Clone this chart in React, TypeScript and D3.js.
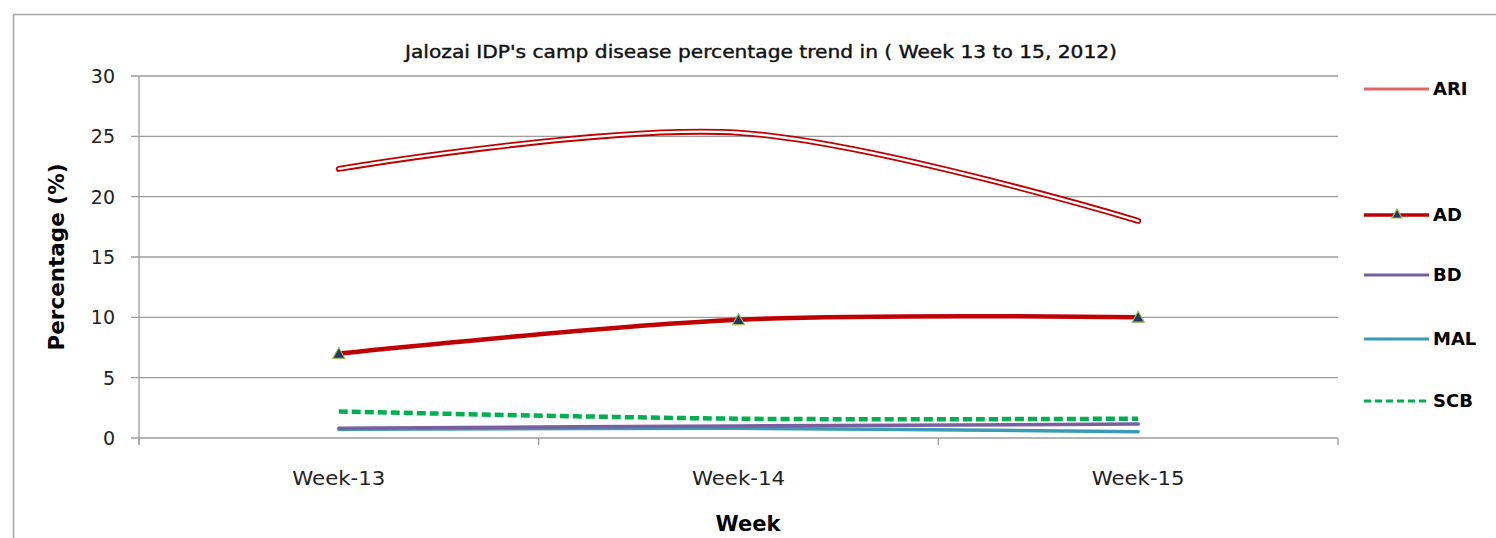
import React from 'react';
import * as d3 from 'd3';

const weeks = ['Week-13', 'Week-14', 'Week-15'];
const ari = [22.3, 25.3, 18.0];
const ad = [7.0, 9.8, 10.0];
const bd = [0.8, 1.0, 1.15];
const mal = [0.72, 0.8, 0.52];
const scb = [2.2, 1.6, 1.6];
const yTicks = [0, 5, 10, 15, 20, 25, 30];

const W = 1496;
const H = 538;
const margin = { top: 76, right: 158, bottom: 100, left: 139 };
const font = "'DejaVu Sans', sans-serif";

const App: React.FC = () => {
  const x = d3
    .scaleBand<string>()
    .domain(weeks)
    .range([margin.left, W - margin.right]);
  const y = d3
    .scaleLinear()
    .domain([0, 30])
    .range([H - margin.bottom, margin.top]);

  const line = d3
    .line<number>()
    .x((_, i) => (x(weeks[i]) as number) + x.bandwidth() / 2)
    .y((d) => y(d))
    .curve(d3.curveCatmullRom.alpha(0.5));

  const x0 = margin.left;
  const x1 = W - margin.right;
  const yb = y(0);

  const legend = [
    { name: 'ARI', y: 89 },
    { name: 'AD', y: 215 },
    { name: 'BD', y: 275 },
    { name: 'MAL', y: 339 },
    { name: 'SCB', y: 401 },
  ];

  const tri = (cx: number, cy: number, s = 6) =>
    `M${cx},${cy - s} L${cx + s},${cy + s * 0.8} L${cx - s},${cy + s * 0.8} Z`;

  return (
    <svg
      width={W}
      height={H}
      style={{ position: 'absolute', left: 0, top: 0, background: '#fff' }}
    >
      {/* outer chart border */}
      <path d={`M13.5,${H} V14.5 H${W}`} fill="none" stroke="#a6a6a6" strokeWidth={1.5} />

      <text
        x={761}
        y={58}
        textAnchor="middle"
        fontFamily={font}
        fontSize={17}
        textLength={712}
        lengthAdjust="spacingAndGlyphs"
        fill="#111"
        stroke="#111"
        strokeWidth={0.4}
      >
        Jalozai IDP's camp disease percentage trend in ( Week 13 to 15, 2012)
      </text>

      {/* gridlines + y ticks */}
      {yTicks.map((t) => (
        <g key={t}>
          <line x1={x0 - 8} x2={x1} y1={y(t)} y2={y(t)} stroke="#9d9d9d" strokeWidth={1.3} />
          <text
            x={x0 - 24}
            y={y(t)}
            dy="0.36em"
            textAnchor="end"
            fontFamily={font}
            fontSize={19}
            fill="#222"
          >
            {t}
          </text>
        </g>
      ))}
      <line x1={x0} x2={x0} y1={margin.top} y2={yb + 7} stroke="#9d9d9d" strokeWidth={1.3} />
      {/* x ticks at category boundaries */}
      {[...weeks.map((w) => x(w) as number), x1].map((tx, i) => (
        <line key={i} x1={tx} x2={tx} y1={yb} y2={yb + 7} stroke="#9d9d9d" strokeWidth={1.3} />
      ))}
      {weeks.map((w) => (
        <text
          key={w}
          x={(x(w) as number) + x.bandwidth() / 2}
          y={485}
          textAnchor="middle"
          fontFamily={font}
          fontSize={19}
          textLength={93}
          lengthAdjust="spacingAndGlyphs"
          fill="#222"
        >
          {w}
        </text>
      ))}

      <text
        x={748}
        y={531}
        textAnchor="middle"
        fontFamily={font}
        fontSize={21}
        fontWeight={700}
        fill="#000"
      >
        Week
      </text>
      <text
        transform={`translate(64,${(margin.top + yb) / 2}) rotate(-90)`}
        textAnchor="middle"
        fontFamily={font}
        fontSize={21.5}
        fontWeight={700}
        fill="#000"
      >
        Percentage (%)
      </text>

      {/* series */}
      <path d={line(mal) as string} fill="none" stroke="#3a9bb5" strokeWidth={3.5} strokeLinecap="round" />
      <path d={line(bd) as string} fill="none" stroke="#7a5fa0" strokeWidth={3.5} strokeLinecap="round" />
      <path
        d={line(scb) as string}
        fill="none"
        stroke="#00b050"
        strokeWidth={4.5}
        strokeDasharray="9 4"
      />
      <path d={line(ad) as string} fill="none" stroke="#c00000" strokeWidth={4.5} />
      {ad.map((v, i) => (
        <path
          key={i}
          d={tri((x(weeks[i]) as number) + x.bandwidth() / 2, y(v))}
          fill="#1f3864"
          stroke="#9bbb59"
          strokeWidth={1.2}
        />
      ))}
      <path d={line(ari) as string} fill="none" stroke="#c00000" strokeWidth={6} strokeLinecap="round" />
      <path d={line(ari) as string} fill="none" stroke="#fff" strokeWidth={2.4} strokeLinecap="round" />

      {/* legend */}
      {legend.map((l) => (
        <g key={l.name}>
          {l.name === 'ARI' && (
            <line x1={1364} x2={1429} y1={l.y} y2={l.y} stroke="#e06666" strokeWidth={3} />
          )}
          {l.name === 'AD' && (
            <>
              <line x1={1364} x2={1429} y1={l.y} y2={l.y} stroke="#c00000" strokeWidth={3.5} />
              <path d={tri(1397, l.y - 1, 5)} fill="#1f3864" stroke="#9bbb59" strokeWidth={1.2} />
            </>
          )}
          {l.name === 'BD' && (
            <line x1={1364} x2={1429} y1={l.y} y2={l.y} stroke="#7a5fa0" strokeWidth={3} />
          )}
          {l.name === 'MAL' && (
            <line x1={1364} x2={1429} y1={l.y} y2={l.y} stroke="#3a9bb5" strokeWidth={3} />
          )}
          {l.name === 'SCB' && (
            <line
              x1={1364}
              x2={1429}
              y1={l.y}
              y2={l.y}
              stroke="#00b050"
              strokeWidth={3}
              strokeDasharray="7 4"
            />
          )}
          <text
            x={1433}
            y={l.y}
            dy="0.36em"
            fontFamily={font}
            fontSize={18}
            fontWeight={700}
            fill="#000"
          >
            {l.name}
          </text>
        </g>
      ))}
    </svg>
  );
};

export default App;
